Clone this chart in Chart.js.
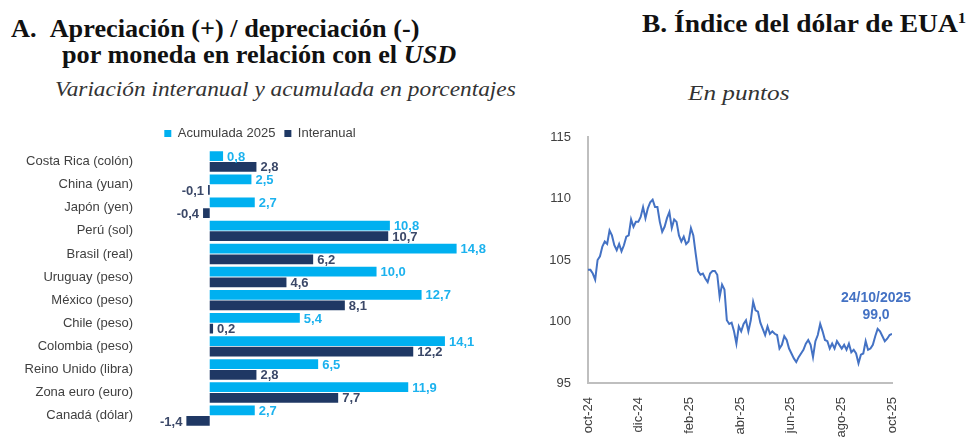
<!DOCTYPE html>
<html>
<head>
<meta charset="utf-8">
<script src="https://cdn.jsdelivr.net/npm/chart.js@4.4.0/dist/chart.umd.min.js"></script>
<style>
  body { margin: 0; background: #fff; width: 976px; height: 437px; overflow: hidden; position: relative; }
  .t { position: absolute; white-space: nowrap; font-family: "Liberation Serif", "Times New Roman", serif; color: #111; line-height: normal; transform-origin: left top; }
  .h { font-weight: bold; font-size: 25px; }
  .s { font-style: italic; font-size: 21px; color: #333; }
  #barCanvas { position: absolute; left: 0; top: 118px; }
  #lineCanvas { position: absolute; left: 540px; top: 118px; }
</style>
</head>
<body>
<div class="t h" style="left:11px; top:15px; transform:scaleX(1.05);">A.&nbsp;&nbsp;Apreciación (+) / depreciación (-)</div>
<div class="t h" style="left:62px; top:41px; transform:scaleX(1.05);">por moneda en relación con el <i>USD</i></div>
<div class="t s" style="left:55px; top:77px; transform:scaleX(1.11);">Variación interanual y acumulada en porcentajes</div>
<div class="t h" style="left:642px; top:10px; transform:scaleX(1.1);">B. Índice del dólar de EUA<sup style="font-size:15px">1</sup></div>
<div class="t s" style="left:688px; top:81px; transform:scaleX(1.2);">En puntos</div>

<canvas id="barCanvas" width="540" height="319"></canvas>
<canvas id="lineCanvas" width="436" height="319"></canvas>

<script>
// Panel A data
const currencies = ['Costa Rica (colón)', 'China (yuan)', 'Japón (yen)', 'Perú (sol)', 'Brasil (real)',
  'Uruguay (peso)', 'México (peso)', 'Chile (peso)', 'Colombia (peso)', 'Reino Unido (libra)',
  'Zona euro (euro)', 'Canadá (dólar)']
const acumulada = [0.8, 2.5, 2.7, 10.8, 14.8, 10.0, 12.7, 5.4, 14.1, 6.5, 11.9, 2.7]
const interanual = [2.8, -0.1, -0.4, 10.7, 6.2, 4.6, 8.1, 0.2, 12.2, 2.8, 7.7, -1.4]

// Panel B data (oct-24 to oct-25)
const monthLabels = ['oct-24', 'dic-24', 'feb-25', 'abr-25', 'jun-25', 'ago-25', 'oct-25']
const dxy = [104.2, 104.2, 103.9, 103.4, 105.0, 105.3, 106.1, 106.5, 106.3, 107.4, 107.0, 106.2,
  105.8, 106.3, 105.7, 106.2, 106.9, 107.0, 108.3, 107.7, 108.1, 108.1, 108.5, 109.3, 108.4, 109.2,
  109.7, 109.9, 109.3, 109.3, 108.1, 107.3, 107.7, 108.4, 108.9, 107.6, 108.3, 108.1, 107.0, 106.5,
  106.9, 106.3, 106.5, 107.6, 107.0, 105.5, 104.1, 103.8, 103.9, 103.5, 103.2, 103.9, 104.1, 104.1,
  103.8, 102.0, 103.0, 102.6, 100.1, 99.8, 99.9, 99.2, 98.2, 99.6, 99.2, 99.8, 100.1, 99.2, 100.1,
  101.6, 100.9, 100.8, 99.9, 99.4, 98.9, 99.6, 99.0, 99.2, 99.0, 98.9, 97.8, 98.1, 98.8, 98.5, 97.8,
  97.4, 97.0, 96.7, 97.1, 97.4, 97.7, 98.2, 98.5, 98.1, 97.1, 98.4, 98.9, 99.8, 99.2, 98.5, 98.4,
  97.8, 98.2, 97.8, 98.4, 98.1, 97.8, 98.1, 97.7, 98.2, 97.5, 97.7, 97.4, 96.6, 97.3, 97.4, 98.4,
  97.7, 97.8, 98.1, 98.8, 99.4, 99.2, 98.8, 98.4, 98.6, 98.9, 99.0]
const lastLabel = ['24/10/2025', '99,0']

const LIGHT = '#00b0f0'
const DARK = '#1f3864'
const fmt = v => v.toFixed(1).replace('.', ',')

// value labels next to bar ends
const barLabels = {
  id: 'barLabels',
  afterDatasetsDraw(chart) {
    const ctx = chart.ctx
    ctx.save()
    ctx.font = 'bold 13px Arial, "Liberation Sans", sans-serif'
    ctx.textBaseline = 'middle'
    chart.data.datasets.forEach((ds, di) => {
      const meta = chart.getDatasetMeta(di)
      ctx.fillStyle = di === 0 ? '#1cb2ee' : '#3b4868'
      meta.data.forEach((bar, i) => {
        const v = ds.data[i]
        if (v >= 0) {
          ctx.textAlign = 'left'
          ctx.fillText(fmt(v), bar.x + 4, bar.y + 1)
        } else {
          ctx.textAlign = 'right'
          ctx.fillText(fmt(v), bar.x - 4, bar.y + 1)
        }
      })
    })
    ctx.restore()
  }
}

new Chart(document.getElementById('barCanvas'), {
  type: 'bar',
  data: {
    labels: currencies,
    datasets: [
      { label: 'Acumulada 2025', data: acumulada, backgroundColor: LIGHT, categoryPercentage: 0.92, barPercentage: 0.92 },
      { label: 'Interanual', data: interanual, backgroundColor: DARK, categoryPercentage: 0.92, barPercentage: 0.92 }
    ]
  },
  options: {
    indexAxis: 'y',
    responsive: false,
    animation: false,
    layout: { padding: { top: 0, right: 20, bottom: 0, left: 0 } },
    scales: {
      x: { display: false, min: -4, max: 18.6 },
      y: {
        grid: { display: false },
        border: { display: false },
        ticks: { color: '#404040', font: { family: 'Arial, "Liberation Sans"', size: 13 }, padding: 2 },
        afterFit: s => { s.width = 143 }
      }
    },
    plugins: {
      legend: {
        labels: {
          boxWidth: 7, boxHeight: 7, padding: 9,
          color: '#404040', font: { family: 'Arial, "Liberation Sans"', size: 13 }
        }
      },
      tooltip: { enabled: false }
    }
  },
  plugins: [barLabels]
})

// annotation over last point
const lastPointLabel = {
  id: 'lastPointLabel',
  afterDatasetsDraw(chart) {
    const pts = chart.getDatasetMeta(0).data
    const p = pts[pts.length - 1]
    const ctx = chart.ctx
    ctx.save()
    ctx.font = 'bold 14px Arial, "Liberation Sans", sans-serif'
    ctx.fillStyle = '#4472c4'
    ctx.textAlign = 'center'
    ctx.textBaseline = 'middle'
    ctx.fillText(lastLabel[0], p.x - 16, p.y - 36)
    ctx.fillText(lastLabel[1], p.x - 16, p.y - 19)
    ctx.restore()
  }
}

new Chart(document.getElementById('lineCanvas'), {
  type: 'line',
  data: {
    datasets: [{
      data: dxy.map((v, i) => ({ x: i * 12 / (dxy.length - 1), y: v })),
      borderColor: '#4472c4',
      borderWidth: 2,
      pointRadius: 0,
      tension: 0
    }]
  },
  options: {
    responsive: false,
    animation: false,
    layout: { padding: { top: 19, right: 84, bottom: 0, left: 0 } },
    scales: {
      x: {
        type: 'linear', min: 0, max: 12,
        grid: { display: false },
        border: { color: '#bfbfbf', width: 2 },
        ticks: {
          stepSize: 2, maxRotation: 90, minRotation: 90, padding: 6,
          color: '#404040', font: { family: 'Arial, "Liberation Sans"', size: 13 },
          callback: v => monthLabels[v / 2]
        },
        afterFit: s => { s.height = 54 }
      },
      y: {
        min: 95, max: 115,
        grid: { display: false },
        border: { color: '#bfbfbf', width: 2 },
        ticks: { stepSize: 5, padding: 9, color: '#404040', font: { family: 'Arial, "Liberation Sans"', size: 13 } },
        afterFit: s => { s.width = 48 }
      }
    },
    plugins: {
      legend: { display: false },
      tooltip: { enabled: false }
    }
  },
  plugins: [lastPointLabel]
})
</script>
</body>
</html>
